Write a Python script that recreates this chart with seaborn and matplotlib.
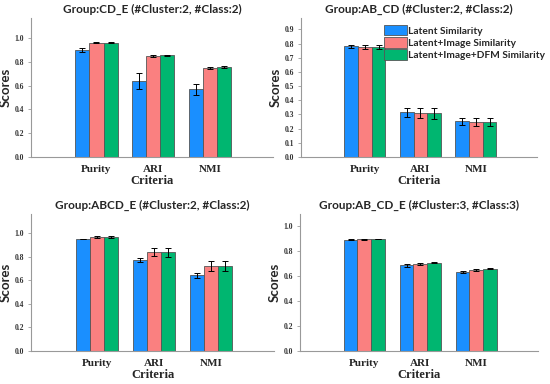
import pandas as pd
import matplotlib.pyplot as plt
import seaborn as sns
import numpy as np

criteria = ["Purity", "ARI", "NMI"]
methods = ["Latent Similarity", "Latent+Image Similarity", "Latent+Image+DFM Similarity"]
colors = ["#1a8fff", "#fa8080", "#00b670"]

titles = [
    "Group:CD_E (#Cluster:2, #Class:2)",
    "Group:AB_CD (#Cluster:2, #Class:2)",
    "Group:ABCD_E (#Cluster:2, #Class:2)",
    "Group:AB_CD_E (#Cluster:3, #Class:3)",
]

# mean scores, rows = method, cols = criteria
cd_e_mean = [[0.902, 0.641, 0.571], [0.963, 0.852, 0.751], [0.963, 0.855, 0.760]]
cd_e_err = [[0.018, 0.068, 0.045], [0.003, 0.010, 0.010], [0.003, 0.005, 0.007]]
ab_cd_mean = [[0.780, 0.315, 0.252], [0.777, 0.311, 0.249], [0.775, 0.308, 0.248]]
ab_cd_err = [[0.013, 0.032, 0.025], [0.014, 0.035, 0.027], [0.014, 0.038, 0.027]]
abcd_e_mean = [[0.948, 0.770, 0.640], [0.965, 0.838, 0.720], [0.963, 0.835, 0.718]]
abcd_e_err = [[0.003, 0.020, 0.018], [0.007, 0.035, 0.040], [0.007, 0.040, 0.042]]
ab_cd_e_mean = [[0.892, 0.688, 0.635], [0.897, 0.700, 0.650], [0.900, 0.710, 0.662]]
ab_cd_e_err = [[0.004, 0.012, 0.010], [0.003, 0.008, 0.008], [0.003, 0.004, 0.003]]

means = [cd_e_mean, ab_cd_mean, abcd_e_mean, ab_cd_e_mean]
errs = [cd_e_err, ab_cd_err, abcd_e_err, ab_cd_e_err]

ylims = [1.17, 0.98, 1.16, 1.10]
ytick_sets = [np.arange(0, 1.01, 0.2), np.arange(0, 0.91, 0.1),
              np.arange(0, 1.01, 0.2), np.arange(0, 1.01, 0.2)]

sns.set_style("white")
serif = ["Liberation Serif", "DejaVu Serif"]
sans = ["Lato", "DejaVu Sans"]

fig = plt.figure(figsize=(5.5, 3.84), dpi=100)
W, H = 550, 384
boxes = [(31, 18, 273, 157), (301, 18, 537, 157), (31, 214, 274, 351), (300, 214, 538, 351)]

for i in range(4):
    l, t, r, b = boxes[i]
    ax = fig.add_axes([l / W, 1 - b / H, (r - l) / W, (b - t) / H])
    rows = []
    for m in range(3):
        for c in range(3):
            rows.append({"Criteria": criteria[c], "Method": methods[m],
                         "Score": means[i][m][c], "Err": errs[i][m][c]})
    df = pd.DataFrame(rows)
    sns.barplot(data=df, x="Criteria", y="Score", hue="Method", order=criteria,
                hue_order=methods, palette=colors, saturation=1, errorbar=None,
                width=0.74, edgecolor="#555555", linewidth=0.6, ax=ax,
                legend=(i == 1))
    # error bars at bar centres
    bar_groups = list(ax.containers)
    for m, cont in enumerate(bar_groups):
        for c, patch in enumerate(cont.patches):
            xc = patch.get_x() + patch.get_width() / 2
            ax.errorbar(xc, means[i][m][c], yerr=errs[i][m][c], fmt="none",
                        ecolor="black", elinewidth=0.7, capsize=2, capthick=0.7)
    ax.set_xlim(-1.15, 3.1)
    ax.set_ylim(0, ylims[i])
    ax.set_yticks(ytick_sets[i])
    ax.set_yticklabels([f"{v:.1f}" for v in ytick_sets[i]], family=serif,
                       fontweight="bold", fontsize=5.5, color="#333333")
    ax.set_xticks(range(3))
    ax.set_xticklabels(criteria, family=serif, fontweight="bold", fontsize=8)
    ax.tick_params(axis="y", left=True, length=2, width=0.5, color="#888888", pad=3)
    ax.tick_params(axis="x", bottom=False, pad=2)
    ax.set_xlabel("Criteria", family=serif, fontweight="bold", fontsize=9, labelpad=1)
    ax.set_ylabel("Scores", family=sans, fontweight="bold", fontsize=9.5, labelpad=2)
    ax.set_title(titles[i], family=sans, fontweight="bold", fontsize=8.5, pad=4)
    for s in ["top", "right"]:
        ax.spines[s].set_visible(False)
    for s in ["left", "bottom"]:
        ax.spines[s].set_color("#999999")
        ax.spines[s].set_linewidth(0.8)
    if i == 1:
        leg = ax.legend(loc="upper right", bbox_to_anchor=(1.065, 1.0), frameon=False,
                        prop={"family": sans, "weight": "bold", "size": 7.3},
                        handlelength=2.2, handleheight=1.2, labelspacing=0.14,
                        handletextpad=0.15, borderpad=0.2)
        for h in leg.legend_handles:
            h.set_edgecolor("#555555")

fig.savefig("out.png", dpi=100)
